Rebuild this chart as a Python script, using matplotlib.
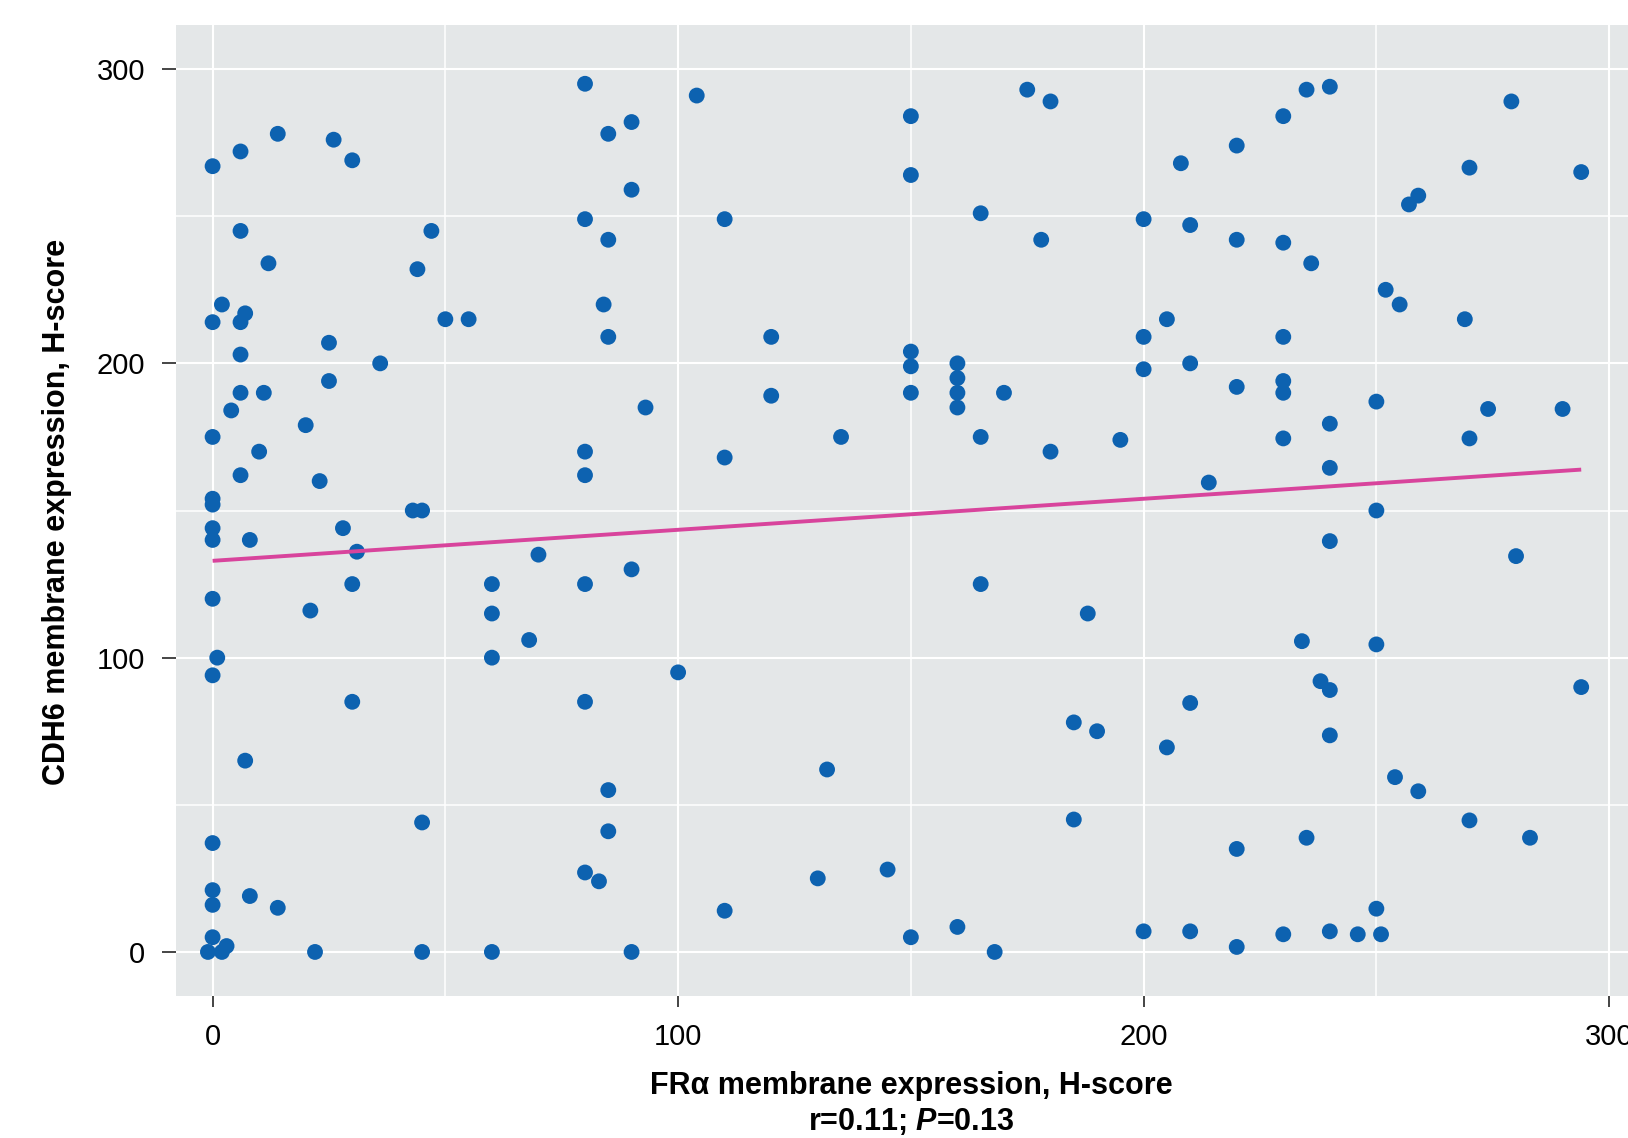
import matplotlib
matplotlib.use("Agg")
import matplotlib.pyplot as plt
from matplotlib.ticker import MultipleLocator

plt.rcParams['font.family'] = ['Liberation Sans', 'DejaVu Sans']
plt.rcParams['mathtext.fontset'] = 'custom'
plt.rcParams['mathtext.rm'] = 'Liberation Sans:bold'
plt.rcParams['mathtext.it'] = 'Liberation Sans:italic:bold'

# FRa H-score (x) and CDH6 H-score (y)
fra = [0, 6, 14, 26, 30, 6, 12, 47, 44,
       2, 0, 6, 7, 50, 55, 6, 25, 36,
       25, 6, 11, 4, 20, 0, 10, 6, 23,
       0, 0, 43, 45, 0, 28, 0, 8, 31,
       0, 30, 21, 1, 0,
       60, 60, 60, 68, 70,
       80, 90, 85, 90, 80, 85, 84, 85,
       80, 80, 80, 90, 93,
       30, 80, 7, 85, 45, 85, 0, 80, 83, 0, 8, 0, 14, 0, 3, -1, 2, 22, 45, 60, 90,
       100, 104, 150, 175, 180, 150, 165, 200, 110, 178, 120, 150, 160, 200,
       150, 160, 160, 160, 150, 170, 200, 120, 135, 110, 165, 180, 195, 165, 188,
       185, 190, 132, 185, 130, 145, 110, 150, 160, 168, 200, 205,
       235, 240, 230, 220, 208, 279, 270, 294, 259, 257, 210, 220, 230, 236,
       252, 255, 269, 205, 230, 210,
       220, 230, 230, 250, 274, 290, 240, 230, 270, 240, 214, 250, 240, 280,
       234, 250, 238, 240, 294,
       210, 240, 254, 259, 270, 283, 220, 235, 250, 210, 220, 230, 240, 246, 251]
cdh6 = [267, 272, 278, 276, 269, 245, 234, 245, 232,
        220, 214, 214, 217, 215, 215, 203, 207, 200,
        194, 190, 190, 184, 179, 175, 170, 162, 160,
        154, 152, 150, 150, 144, 144, 140, 140, 136,
        120, 125, 116, 100, 94,
        125, 115, 100, 106, 135,
        295, 282, 278, 259, 249, 242, 220, 209,
        170, 162, 125, 130, 185,
        85, 85, 65, 55, 44, 41, 37, 27, 24, 21, 19, 16, 15, 5, 2, 0, 0, 0, 0, 0, 0,
        95, 291, 284, 293, 289, 264, 251, 249, 249, 242, 209, 204, 200, 209,
        199, 195, 190, 185, 190, 190, 198, 189, 175, 168, 175, 170, 174, 125, 115,
        78, 75, 62, 45, 25, 28, 14, 5, 8.5, 0, 7, 69.5,
        293, 294, 284, 274, 268, 289, 266.5, 265, 257, 254, 247, 242, 241, 234,
        225, 220, 215, 215, 209, 200,
        192, 194, 190, 187, 184.5, 184.5, 179.5, 174.5, 174.5, 164.5, 159.5, 150, 139.6, 134.5,
        105.6, 104.5, 92, 89, 90,
        84.6, 73.6, 59.4, 54.6, 44.7, 38.8, 35, 38.8, 14.7, 7, 1.7, 6, 7, 6, 6]

# fitted line end points as drawn
fit_x = [0, 294]
fit_y = [132.9, 163.9]

x_ticks = [0, 100, 200, 300]
y_ticks = [0, 100, 200, 300]

fig = plt.figure(figsize=(16.28, 11.38), dpi=100)
ax = fig.add_axes([0.1080, 0.1247, 0.9030, 0.8534])
ax.set_facecolor('#e4e7e8')
for s in ax.spines.values():
    s.set_visible(False)

ax.scatter(fra, cdh6, s=130, color='#0d62b0', edgecolors='none', zorder=3)
ax.plot(fit_x, fit_y, color='#d8449c', lw=2.8, zorder=4, solid_capstyle='butt')

ax.set_xlim(-7.9, 307.9)
ax.set_ylim(-15, 315)
ax.set_xticks(x_ticks)
ax.set_yticks(y_ticks)
ax.xaxis.set_minor_locator(MultipleLocator(50))
ax.yaxis.set_minor_locator(MultipleLocator(50))
ax.set_axisbelow(True)
ax.grid(which='major', color='white', lw=1.5)
ax.grid(which='minor', color='white', lw=1.1)
ax.tick_params(which='minor', length=0)
ax.tick_params(axis='y', which='major', length=10, width=1.4, color='#444444',
               labelsize=21, pad=12)
ax.tick_params(axis='x', which='major', length=8, width=1.4, color='#444444',
               labelsize=21, pad=11.5)

fig.text(57 / 1628, 1 - 511.5 / 1138, 'CDH6 membrane expression, H-score',
         rotation=90, ha='center', va='center', fontsize=22, fontweight='bold')
fig.text(911 / 1628, 1 - 1094 / 1138, 'FRα membrane expression, H-score',
         ha='center', va='baseline', fontsize=22, fontweight='bold')
fig.text(911 / 1628, 1 - 1130 / 1138, 'r=0.11; $P$=0.13',
         ha='center', va='baseline', fontsize=22, fontweight='bold')

fig.savefig('out.png', dpi=100)
